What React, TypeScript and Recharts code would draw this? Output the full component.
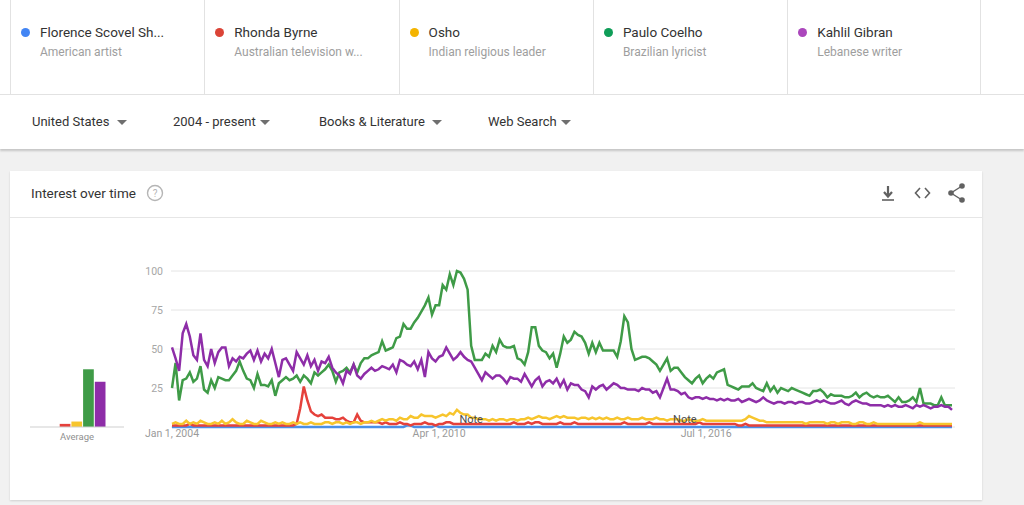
import { Bar, BarChart, CartesianGrid, Line, LineChart, ReferenceLine, XAxis, YAxis } from "recharts";

// monthly categories, Jan 2004 onwards
const START_YEAR = 2004;
const MONTH_COUNT = 220;
const months = Array.from({ length: MONTH_COUNT }, (_, i) => {
  const y = START_YEAR + Math.floor(i / 12);
  const m = (i % 12) + 1;
  return `${y}-${String(m).padStart(2, "0")}`;
});

const xTicks = ["2004-01", "2010-04", "2016-07"];
const xTickLabels = ["Jan 1, 2004", "Apr 1, 2010", "Jul 1, 2016"];
const yTicks = [25, 50, 75, 100];
const noteMonths = ["2011-01", "2016-01"];

const termNames = ["Florence Scovel Sh...", "Rhonda Byrne", "Osho", "Paulo Coelho", "Kahlil Gibran"];
const termDescs = ["American artist", "Australian television w...", "Indian religious leader", "Brazilian lyricist", "Lebanese writer"];
const termKeys = ["florence", "rhonda", "osho", "paulo", "kahlil"];
const dotColors = ["#4285f4", "#db4437", "#f4b400", "#0f9d58", "#ab47bc"];
const lineColors = ["#4a8fe7", "#e5413b", "#f7c52d", "#3f9b47", "#8e2da8"];

const filters = ["United States", "2004 - present", "Books & Literature", "Web Search"];
const filterX = [32, 173, 319, 488];
const caretX = [122, 265, 437, 566];

const florence = [
  0, 0, 0, 0, 0, 0, 0, 0, 0, 0, 0, 0,
  0, 0, 0, 0, 0, 0, 0, 0, 0, 0, 0, 0,
  0, 0, 0, 0, 0, 0, 0, 0, 0, 0, 0, 0,
  0, 0, 0, 0, 0, 0, 0, 0, 0, 0, 0, 0,
  0, 0, 0, 0, 0, 0, 0, 0, 0, 0, 0, 0,
  0, 0, 0, 0, 0, 0, 1, 1, 0, 0, 0, 0,
  0, 0, 1, 0, 0, 0, 0, 0, 0, 0, 0, 0,
  0, 0, 0, 0, 0, 0, 0, 0, 0, 0, 0, 0,
  0, 0, 0, 0, 0, 0, 0, 0, 0, 0, 0, 0,
  0, 0, 0, 0, 0, 0, 0, 0, 0, 0, 0, 0,
  0, 0, 0, 0, 0, 0, 0, 0, 0, 0, 0, 0,
  0, 0, 0, 0, 0, 0, 0, 0, 0, 0, 0, 0,
  0, 0, 0, 0, 0, 0, 0, 0, 0, 0, 0, 0,
  0, 0, 0, 0, 0, 0, 0, 0, 0, 0, 0, 0,
  0, 0, 0, 0, 0, 0, 0, 0, 0, 0, 0, 0,
  0, 0, 0, 0, 0, 0, 0, 0, 0, 0, 0, 0,
  0, 0, 0, 0, 0, 0, 0, 0, 0, 0, 0, 0,
  0, 0, 0, 0, 0, 0, 0, 0, 0, 0, 0, 0,
  0, 0, 0, 0,
];

const rhonda = [
  1, 1, 1, 1, 1, 2, 1, 1, 1, 1, 1, 1,
  1, 1, 1, 1, 1, 1, 1, 1, 1, 1, 1, 1,
  1, 1, 1, 1, 1, 1, 1, 1, 1, 1, 1, 2,
  12, 26, 17, 10, 8, 7, 8, 6, 6, 6, 5, 5,
  6, 4, 3, 3, 8, 4, 3, 3, 3, 3, 3, 2,
  3, 2, 2, 2, 3, 2, 2, 1, 2, 2, 2, 3,
  2, 2, 1, 2, 2, 3, 3, 2, 2, 2, 2, 2,
  2, 2, 2, 2, 2, 2, 2, 2, 2, 2, 2, 2,
  3, 2, 2, 2, 3, 2, 3, 3, 2, 2, 2, 2,
  2, 3, 2, 2, 2, 3, 2, 2, 2, 2, 2, 2,
  2, 2, 2, 2, 2, 2, 2, 3, 2, 2, 2, 2,
  2, 2, 3, 2, 2, 2, 2, 2, 2, 2, 2, 2,
  2, 2, 2, 2, 3, 2, 2, 2, 2, 2, 2, 2,
  2, 2, 2, 1, 1, 2, 1, 1, 1, 1, 1, 1,
  1, 1, 1, 1, 1, 1, 1, 1, 1, 1, 1, 1,
  1, 1, 1, 1, 1, 1, 1, 1, 1, 1, 1, 1,
  1, 1, 1, 1, 1, 1, 1, 1, 1, 1, 1, 1,
  1, 1, 1, 1, 1, 1, 1, 1, 1, 1, 1, 1,
  1, 1, 1, 1,
];

const osho = [
  2, 3, 2, 2, 4, 2, 3, 2, 4, 3, 2, 2,
  3, 2, 4, 2, 3, 5, 3, 2, 2, 4, 3, 2,
  2, 4, 3, 2, 2, 3, 2, 3, 2, 2, 3, 2,
  3, 2, 2, 3, 2, 2, 2, 3, 3, 2, 3, 3,
  2, 3, 2, 3, 3, 2, 3, 3, 4, 3, 4, 5,
  4, 5, 5, 4, 6, 5, 5, 7, 6, 6, 8, 7,
  7, 7, 6, 7, 8, 7, 9, 8, 11, 9, 8, 8,
  6, 6, 5, 5, 5, 4, 5, 4, 5, 5, 4, 5,
  5, 4, 5, 5, 6, 5, 6, 7, 6, 6, 5, 6,
  7, 6, 7, 6, 6, 6, 5, 6, 6, 5, 6, 5,
  6, 5, 6, 5, 5, 6, 5, 5, 6, 5, 5, 5,
  6, 5, 5, 5, 6, 5, 5, 4, 5, 5, 5, 4,
  4, 5, 4, 4, 4, 5, 4, 4, 4, 4, 4, 4,
  4, 4, 4, 4, 4, 5, 7, 6, 5, 4, 4, 3,
  3, 3, 3, 3, 3, 3, 3, 3, 3, 3, 2, 3,
  3, 3, 3, 3, 2, 3, 3, 2, 3, 3, 3, 2,
  2, 3, 3, 2, 2, 3, 2, 2, 2, 2, 2, 2,
  2, 2, 2, 2, 2, 2, 3, 2, 2, 2, 2, 2,
  2, 2, 2, 2,
];

const paulo = [
  25, 41, 17, 30, 31, 35, 29, 31, 39, 24, 22, 30,
  25, 32, 31, 30, 30, 33, 36, 42, 36, 31, 30, 25,
  34, 27, 27, 26, 30, 20, 28, 30, 32, 30, 31, 33,
  29, 33, 31, 28, 35, 33, 35, 37, 40, 36, 29, 35,
  36, 38, 35, 40, 35, 41, 44, 44, 46, 47, 48, 55,
  49, 50, 51, 57, 58, 66, 63, 63, 67, 70, 74, 78,
  83, 72, 78, 78, 91, 88, 98, 91, 100, 99, 95, 88,
  52, 43, 43, 43, 47, 45, 52, 48, 56, 52, 51, 51,
  52, 44, 43, 40, 48, 64, 64, 52, 49, 48, 44, 47,
  38, 47, 58, 54, 56, 61, 59, 58, 54, 47, 54, 48,
  54, 49, 49, 49, 49, 45, 55, 71, 67, 50, 43, 44,
  45, 45, 44, 42, 40, 36, 40, 44, 36, 38, 38, 35,
  32, 30, 28, 31, 33, 28, 31, 33, 31, 35, 36, 37,
  27, 26, 25, 24, 26, 26, 26, 28, 25, 24, 23, 28,
  23, 26, 22, 25, 24, 23, 25, 24, 23, 22, 21, 20,
  23, 23, 24, 22, 19, 21, 20, 20, 20, 19, 19, 20,
  22, 19, 21, 22, 20, 19, 20, 19, 19, 20, 18, 16,
  19, 16, 16, 17, 19, 16, 25, 15, 15, 15, 14, 14,
  19, 14, 14, 14,
];

const kahlil = [
  51, 44, 36, 60, 66, 58, 46, 43, 60, 43, 39, 50,
  41, 48, 51, 51, 39, 44, 42, 45, 44, 47, 49, 43,
  49, 42, 47, 44, 50, 41, 32, 43, 44, 40, 36, 48,
  44, 40, 46, 39, 43, 36, 42, 41, 45, 38, 35, 33,
  28, 36, 34, 40, 33, 31, 34, 36, 38, 36, 37, 39,
  38, 37, 40, 35, 43, 42, 40, 39, 42, 37, 43, 32,
  48, 44, 42, 45, 46, 51, 47, 43, 45, 48, 45, 43,
  42, 38, 34, 30, 35, 33, 31, 33, 33, 31, 28, 32,
  31, 31, 29, 34, 30, 26, 30, 32, 26, 29, 30, 28,
  31, 26, 30, 24, 28, 27, 27, 24, 23, 19, 26, 24,
  26, 27, 24, 26, 28, 27, 25, 25, 24, 24, 24, 23,
  25, 24, 24, 22, 23, 19, 25, 31, 24, 24, 23, 21,
  22, 19, 18, 19, 19, 18, 19, 18, 18, 17, 18, 17,
  18, 17, 17, 18, 16, 17, 18, 17, 16, 17, 19, 17,
  16, 15, 16, 16, 15, 16, 16, 15, 16, 16, 15, 15,
  16, 17, 16, 17, 16, 15, 15, 16, 17, 15, 14, 16,
  17, 16, 15, 15, 14, 14, 14, 14, 13, 14, 13, 14,
  13, 13, 14, 13, 12, 14, 13, 14, 13, 12, 13, 13,
  14, 13, 13, 11,
];

const averages = [0, 2, 3.5, 37, 29];

const seriesValues = [florence, rhonda, osho, paulo, kahlil];

const chartData = months.map((m, i) => {
  const row: Record<string, string | number> = { month: m };
  termKeys.forEach((k, j) => {
    row[k] = seriesValues[j][i];
  });
  return row;
});

const avgData = [
  termKeys.reduce<Record<string, string | number>>(
    (acc, k, j) => {
      acc[k] = averages[j];
      return acc;
    },
    { name: "Average" },
  ),
];

const COL_W = 194.3;

function Caret({ x }: { x: number }) {
  return (
    <svg style={{ position: "absolute", left: x - 5, top: 120 }} width={10} height={6}>
      <path d="M0,0 L10,0 L5,5 Z" fill="#6f6f6f" />
    </svg>
  );
}

export default function App() {
  return (
    <div
      style={{
        position: "relative",
        width: 1024,
        height: 505,
        background: "#f1f1f1",
        overflow: "hidden",
        fontFamily: "Roboto, Arial, sans-serif",
      }}
    >
      <style>{"body{margin:0}"}</style>

      {/* compared terms */}
      <div style={{ position: "absolute", left: 0, top: 0, width: 1024, height: 94, background: "#fff", borderBottom: "1px solid #e2e2e2" }}>
        {termNames.map((name, i) => (
          <div
            key={name}
            style={{
              position: "absolute",
              left: 10 + i * COL_W,
              top: 0,
              width: COL_W,
              height: 94,
              borderLeft: "1px solid #e2e2e2",
              borderRight: i === termNames.length - 1 ? "1px solid #e2e2e2" : undefined,
              boxSizing: "border-box",
            }}
          >
            <div style={{ position: "absolute", left: 10, top: 28, width: 9, height: 9, borderRadius: "50%", background: dotColors[i] }} />
            <div style={{ position: "absolute", left: 29, top: 24, fontSize: 13.5, color: "#333", whiteSpace: "nowrap" }}>{name}</div>
            <div style={{ position: "absolute", left: 29, top: 45, fontSize: 12, color: "#9e9e9e", whiteSpace: "nowrap" }}>{termDescs[i]}</div>
          </div>
        ))}
      </div>

      {/* filters */}
      <div style={{ position: "absolute", left: 0, top: 95, width: 1024, height: 54, background: "#fff", boxShadow: "0 2px 2px rgba(0,0,0,0.18)" }} />
      {filters.map((f, i) => (
        <div key={f} style={{ position: "absolute", left: filterX[i], top: 114, fontSize: 13, color: "#333", whiteSpace: "nowrap" }}>
          {f}
        </div>
      ))}
      {caretX.map((x) => (
        <Caret key={x} x={x} />
      ))}

      {/* card */}
      <div style={{ position: "absolute", left: 10, top: 171, width: 972, height: 329, background: "#fff", boxShadow: "0 1px 2px rgba(0,0,0,0.14)" }}>
        <div style={{ height: 46, borderBottom: "1px solid #e6e6e6", position: "relative" }}>
          <div style={{ position: "absolute", left: 21, top: 14, fontSize: 13.5, color: "#333" }}>Interest over time</div>
        </div>
      </div>
      <svg style={{ position: "absolute", left: 0, top: 170 }} width={1024} height={46}>
        <circle cx={155} cy={23} r={7.5} fill="none" stroke="#b5b5b5" strokeWidth={1.4} />
        <text x={155} y={27} textAnchor="middle" fontSize={10} fill="#b5b5b5" fontFamily="Roboto, Arial">?</text>
        {/* download */}
        <path d="M888,16 L888,26 M884,22 L888,26.5 L892,22" stroke="#616161" strokeWidth={2.2} fill="none" />
        <line x1={882} y1={30} x2={894} y2={30} stroke="#616161" strokeWidth={1.6} />
        {/* embed */}
        <polyline points="920,18 915.5,23 920,28" stroke="#616161" strokeWidth={1.6} fill="none" />
        <polyline points="925,18 929.5,23 925,28" stroke="#616161" strokeWidth={1.6} fill="none" />
        {/* share */}
        <path d="M962,16 L951,23 L962,30" stroke="#616161" strokeWidth={1.4} fill="none" />
        <circle cx={962} cy={16} r={2.8} fill="#616161" />
        <circle cx={951} cy={23} r={2.8} fill="#616161" />
        <circle cx={962} cy={30} r={2.8} fill="#616161" />
      </svg>

      {/* average bars */}
      <div style={{ position: "absolute", left: 30, top: 255 }}>
        <BarChart width={94} height={200} data={avgData} margin={{ top: 16, right: 0, bottom: 8, left: 0 }} barSize={10.7} barGap={1}>
          <YAxis hide domain={[0, 100]} />
          <XAxis
            dataKey="name"
            height={20}
            axisLine={{ stroke: "#cfcfcf" }}
            tickLine={false}
            tickSize={0}
            tickMargin={6}
            tick={{ fontSize: 9.5, fill: "#8f8f8f" }}
          />
          {termKeys.map((k, i) => (
            <Bar key={k} dataKey={k} fill={lineColors[i]} isAnimationActive={false} />
          ))}
        </BarChart>
      </div>

      {/* interest over time */}
      <div style={{ position: "absolute", left: 130, top: 255 }}>
        <LineChart width={840} height={200} data={chartData} margin={{ top: 16, right: 15, bottom: 8, left: 11 }}>
          <CartesianGrid vertical={false} stroke="#e4e4e4" />
          <XAxis
            dataKey="month"
            height={20}
            ticks={xTicks}
            interval={0}
            axisLine={false}
            tickLine={false}
            tickSize={0}
            tickMargin={3}
            padding={{ left: 1, right: 3 }}
            tickFormatter={(v: string) => xTickLabels[xTicks.indexOf(v)]}
            tick={{ fontSize: 10.5, fill: "#9a9a9a" }}
          />
          <YAxis
            width={30}
            domain={[0, 100]}
            ticks={yTicks}
            axisLine={false}
            tickLine={false}
            tickSize={0}
            tickMargin={8}
            tick={{ fontSize: 10.5, fill: "#a6a6a6" }}
          />
          {termKeys.map((k, i) => (
            <Line
              key={k}
              type="linear"
              dataKey={k}
              stroke={lineColors[i]}
              strokeWidth={2.5}
              dot={false}
              isAnimationActive={false}
            />
          ))}
          {noteMonths.map((m) => (
            <ReferenceLine
              key={m}
              x={m}
              stroke="none"
              label={{ value: "Note", position: "insideBottom", offset: 4, fontSize: 11, fill: "#4a4a4a" }}
            />
          ))}
        </LineChart>
      </div>
    </div>
  );
}
